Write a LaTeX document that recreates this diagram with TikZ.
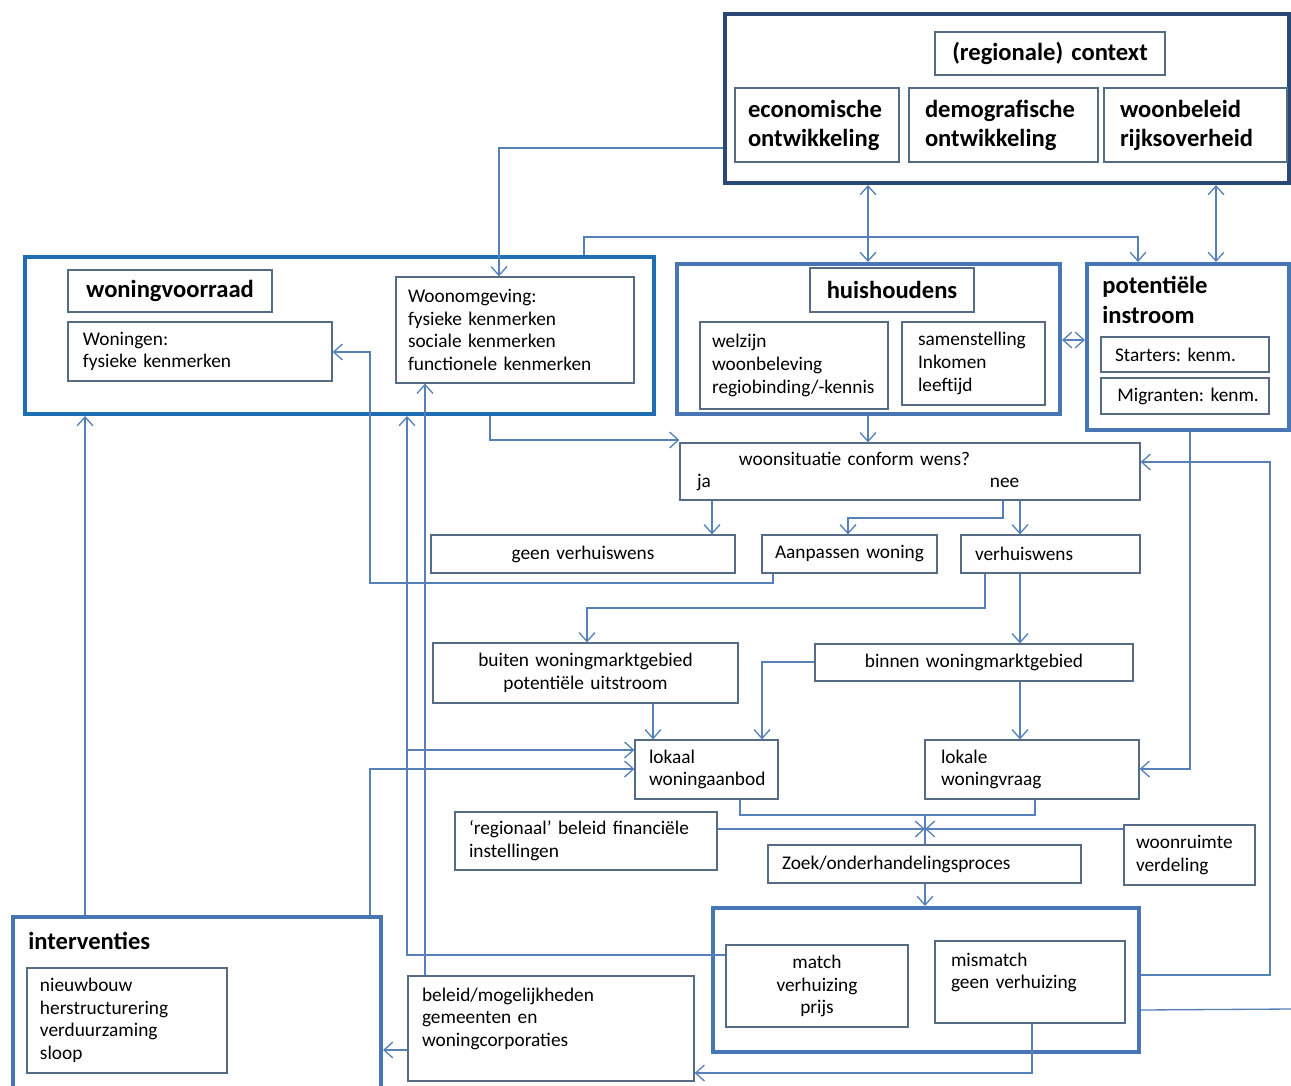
\documentclass[tikz,border=0pt]{standalone}
\usepackage{fontspec}
\setmainfont{Carlito}
\usetikzlibrary{arrows.meta}
\frenchspacing
\definecolor{ctxc}{RGB}{42,72,118}
\definecolor{wvc}{RGB}{31,110,180}
\definecolor{obc}{RGB}{72,117,180}
\definecolor{tbc}{RGB}{85,108,132}
\definecolor{cnc}{RGB}{85,128,185}
\newcommand\regf{\fontsize{11}{12.9}\selectfont}
\newcommand\bldf{\fontsize{14}{16.5}\selectfont\bfseries}
\newcommand\boxnode[8]{%
  \pgfmathsetmacro\bxw{(#5-#3)*0.02}%
  \pgfmathsetmacro\bxh{(#6-#4)*0.02}%
  \pgfmathsetmacro\bxt{(#5-#3-2*#7)*0.02}%
  \node[#1, minimum width=\bxw cm, minimum height=\bxh cm, text width=\bxt cm, inner sep=0pt] (#2) at ({(#3+#5)/2},{(#4+#6)/2}) {#8};}
\tikzset{
  tbox/.style={draw=tbc, line width=0.7pt, align=left, font=\regf},
  cbox/.style={tbox, align=center},
  bbox/.style={tbox, font=\bldf},
  bcbox/.style={cbox, font=\bldf},
  obox/.style={draw=obc, line width=2.3pt},
  conn/.style={draw=cnc, line width=0.75pt},
  arr/.style={conn, -{Straight Barb[length=5pt,width=9pt]}},
  darr/.style={conn, {Straight Barb[length=5pt,width=9pt]}-{Straight Barb[length=5pt,width=9pt]}},
}
\begin{document}
\begin{tikzpicture}[x=0.02cm,y=-0.02cm]
\useasboundingbox (0,0) rectangle (1291,1085);
\fill[white] (0,0) rectangle (1291,1085);
% context
\boxnode{obox, draw=ctxc}{ctx}{725}{14}{1289}{183}{0}{}
\boxnode{bcbox}{ctxt}{935}{32}{1165}{75}{5}{(regionale) context}
\boxnode{bbox}{eco}{735}{88}{899}{162}{13}{economische\\ontwikkeling}
\boxnode{bbox}{demo}{909}{88}{1098}{162}{16}{demografische\\ontwikkeling}
\boxnode{bbox}{woonb}{1104}{88}{1287}{162}{16}{woonbeleid\\rijksoverheid}
% woningvoorraad
\boxnode{obox, draw=wvc}{wv}{25}{257}{654}{414}{0}{}
\boxnode{bcbox}{wvt}{68}{270}{272}{312}{5}{woningvoorraad}
\boxnode{tbox}{won}{68}{322}{332}{381}{15}{Woningen:\\fysieke kenmerken}
\boxnode{tbox}{wom}{396}{277}{634}{383}{12}{Woonomgeving:\\fysieke kenmerken\\sociale kenmerken\\functionele kenmerken}
% huishoudens
\boxnode{obox}{hh}{677}{264}{1060}{414}{0}{}
\boxnode{bcbox}{hht}{810}{268}{974}{312}{5}{huishoudens}
\boxnode{tbox}{welz}{700}{322}{888}{409}{12}{welzijn\\woonbeleving\\regiobinding/-kennis}
\boxnode{tbox}{sam}{902}{322}{1045}{405}{16}{samenstelling\\Inkomen\\leeftijd}
% potentiele instroom
\boxnode{obox}{pi}{1087}{264}{1289}{430}{0}{}
\node[font=\fontsize{14}{17}\selectfont\bfseries, align=left, anchor=west, inner sep=0pt] (pit) at (1102,300) {potentiële\\instroom};
\boxnode{tbox}{start}{1101}{337}{1269}{372}{14}{Starters: kenm.}
\boxnode{tbox}{migr}{1101}{378}{1269}{414}{4}{\hspace*{7pt}Migranten: kenm.}
% middle
\boxnode{tbox}{ws}{680}{443}{1140}{500}{17}{\hspace*{0.84cm}woonsituatie conform wens?\\\leavevmode\rlap{ja}\hspace*{5.86cm}nee}
\boxnode{cbox}{gvw}{431}{535}{735}{573}{5}{geen verhuiswens}
\boxnode{cbox}{aw}{762}{535}{937}{573}{5}{Aanpassen woning}
\boxnode{tbox}{vw}{961}{535}{1140}{573}{14}{verhuiswens}
\boxnode{cbox}{buiten}{433}{643}{738}{703}{5}{buiten woningmarktgebied\\potentiële uitstroom}
\boxnode{cbox}{binnen}{815}{644}{1133}{681}{5}{binnen woningmarktgebied}
\boxnode{tbox}{lwa}{635}{740}{778}{799}{14}{lokaal\\woningaanbod}
\boxnode{tbox}{lwv}{925}{740}{1139}{799}{16}{lokale\\woningvraag}
\boxnode{tbox}{reg}{455}{812}{717}{870}{14}{‘regionaal’ beleid financiële\\instellingen}
\boxnode{tbox}{zoek}{768}{845}{1081}{883}{14}{Zoek/onderhandelingsproces}
\boxnode{tbox}{wrv}{1124}{825}{1255}{885}{12}{woonruimte\\verdeling}
% match
\boxnode{obox}{mo}{713}{908}{1139}{1052}{0}{}
\boxnode{cbox}{match}{726}{945}{908}{1027}{5}{match\\verhuizing\\prijs}
\boxnode{tbox}{mis}{935}{941}{1125}{1023}{16}{mismatch\\geen verhuizing\\\mbox{}}
% interventies
\boxnode{obox}{int}{13}{917}{381}{1100}{0}{}
\node[font=\bldf, anchor=west, inner sep=0pt] (intt) at (28,941) {interventies};
\boxnode{tbox}{intl}{27}{968}{227}{1073}{13}{nieuwbouw\\herstructurering\\verduurzaming\\sloop}
\boxnode{tbox}{bel}{408}{976}{694}{1081}{14}{beleid/mogelijkheden\\gemeenten en\\woningcorporaties\\\mbox{}}
% helper coordinates
\coordinate (offr) at (1291,1009);
\coordinate (br) at (407,750);
\coordinate (mid) at (925,829);
\coordinate (join) at (925,815);
% connectors
\draw[arr] (ctx.west |- 0,148) -| (499,0 |- wom.north);
\draw[arr] (584,0 |- wv.north) |- (1138,237) -- (1138,0 |- pi.north);
\draw[darr] (868,0 |- ctx.south) -- (868,0 |- hh.north);
\draw[darr] (1216,0 |- ctx.south) -- (1216,0 |- pi.north);
\draw[darr] (hh.east |- 0,340) -- (pi.west |- 0,340);
\draw[arr] (868,0 |- hh.south) -- (868,0 |- ws.north);
\draw[arr] (490,0 |- wv.south) |- (ws.west |- 0,440);
\draw[arr] (712,0 |- ws.south) -- (712,0 |- gvw.north);
\draw[arr] (1003,0 |- ws.south) |- (848,518) -- (848,0 |- aw.north);
\draw[arr] (1020,0 |- ws.south) -- (1020,0 |- vw.north);
\draw[arr] (mo.east |- 0,975) -| (1270,462) -- (ws.east |- 0,462);
\draw[arr] (1190,0 |- pi.south) |- (lwv.east |- 0,769);
\draw[conn] (mo.east |- 0,1010) -- (offr);
\draw[arr] (773,0 |- aw.south) |- (370,583) |- (won.east |- 0,352);
\draw[arr] (match.west |- 0,955) -| (407,0 |- wv.south);
\draw[arr] (br) -- (lwa.west |- br);
\draw[arr] (425,0 |- bel.north) -- (425,0 |- wom.south);
\draw[arr] (370,0 |- int.north) |- (lwa.west |- 0,769);
\draw[arr] (85,0 |- int.north) -- (85,0 |- wv.south);
\draw[arr] (bel.west |- 0,1050) -- (int.east |- 0,1050);
\draw[arr] (1032,0 |- mis.south) |- (bel.east |- 0,1073);
\draw[arr] (985,0 |- vw.south) |- (587,608) -- (587,0 |- buiten.north);
\draw[arr] (1020,0 |- vw.south) -- (1020,0 |- binnen.north);
\draw[arr] (653,0 |- buiten.south) -- (653,0 |- lwa.north);
\draw[arr] (binnen.west |- 0,662) -| (762,0 |- lwa.north);
\draw[arr] (1020,0 |- binnen.south) -- (1020,0 |- lwv.north);
\draw[conn] (740,0 |- lwa.south) |- (1035,815) -- (1035,0 |- lwv.south);
\draw[conn] (join) -- (925,0 |- zoek.north);
\draw[arr] (reg.east |- mid) -- (mid);
\draw[arr] (wrv.west |- mid) -- (mid);
\draw[arr] (925,0 |- zoek.south) -- (925,0 |- mo.north);
\end{tikzpicture}
\end{document}
